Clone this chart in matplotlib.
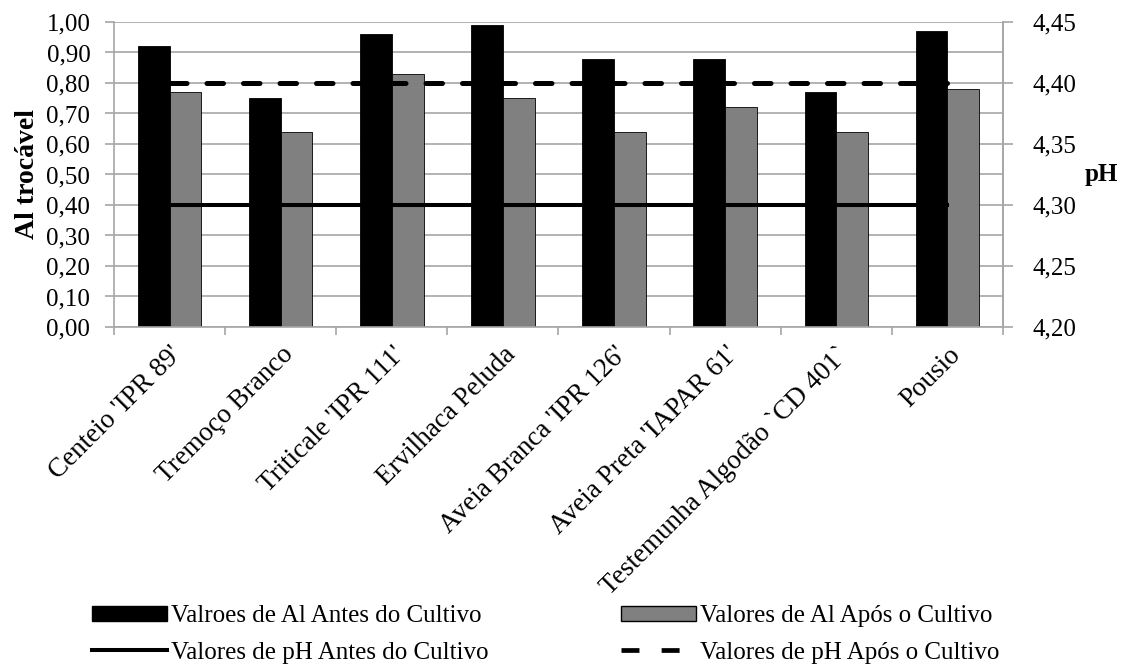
import numpy as np
import matplotlib
matplotlib.use("Agg")
import matplotlib.pyplot as plt
from matplotlib.lines import Line2D
from matplotlib.patches import Patch

plt.rcParams['font.family'] = ['Liberation Serif', 'DejaVu Serif']

# data
categorias = ["Centeio 'IPR 89'", "Tremoço Branco", "Triticale 'IPR 111'", "Ervilhaca Peluda",
              "Aveia Branca 'IPR 126'", "Aveia Preta 'IAPAR 61'", "Testemunha Algodão `CD 401`", "Pousio"]
al_antes = [0.92, 0.75, 0.96, 0.99, 0.88, 0.88, 0.77, 0.97]
al_apos = [0.77, 0.64, 0.83, 0.75, 0.64, 0.72, 0.64, 0.78]
ph_antes = [4.30] * len(categorias)
ph_apos = [4.40] * len(categorias)

left_ticks = np.arange(0, 1.001, 0.1)
right_ticks = np.arange(4.20, 4.4501, 0.05)

grid_c = '#a6a6a6'

fig = plt.figure(figsize=(11.26, 6.68), dpi=100)
ax = fig.add_axes([0.1012, 0.5105, 0.7896, 0.4566])
x = np.arange(len(categorias))
w = 0.286

ax.bar(x - w / 2, al_antes, w, color='black', edgecolor='black', linewidth=0.6, zorder=2)
ax.bar(x + w / 2, al_apos, w, color='#808080', edgecolor='black', linewidth=0.6, zorder=2)

ax.set_xlim(-0.5, len(categorias) - 0.5)
ax.set_ylim(0, 1)
ax.set_yticks(left_ticks)
ax.set_yticklabels([f"{v:.2f}".replace('.', ',') for v in left_ticks])
ax.yaxis.grid(True, color=grid_c, linewidth=1.2, zorder=0)
ax.set_axisbelow(True)
ax.set_xticks(x)
ax.set_xticklabels(categorias, rotation=45, ha='right', va='top', rotation_mode='anchor')
ax.set_xticks(np.arange(-0.5, len(categorias)), minor=True)
ax.tick_params(axis='x', which='major', length=0, pad=11, labelsize=19.5)
ax.tick_params(axis='x', which='minor', length=6, color=grid_c, width=1.2)
ax.tick_params(axis='y', length=6.5, color=grid_c, width=1.2, labelsize=18, pad=10.5)
for s in ['left', 'bottom', 'right']:
    ax.spines[s].set_color(grid_c)
    ax.spines[s].set_linewidth(1.2)
ax.spines['top'].set_visible(False)
ax.set_ylabel('Al trocável', fontsize=20, fontweight='bold', labelpad=5)

ax2 = ax.twinx()
ax2.plot(x, ph_antes, color='black', linewidth=2.9, zorder=3)
ax2.plot(x, ph_apos, color='black', linewidth=3.6, dashes=(3.3, 4.0),
         dash_capstyle='round', zorder=3)
ax2.set_ylim(4.20, 4.45)
ax2.set_yticks(right_ticks)
ax2.set_yticklabels([f"{v:.2f}".replace('.', ',') for v in right_ticks])
ax2.tick_params(axis='y', length=7, color=grid_c, width=1.2, labelsize=18, pad=14)
for s in ax2.spines.values():
    s.set_visible(False)
ax2.spines['right'].set_visible(True)
ax2.spines['right'].set_color(grid_c)
ax2.spines['right'].set_linewidth(1.2)
ax2.set_ylabel('pH', fontsize=18, fontweight='bold', rotation=0, labelpad=18, va='center')

handles = [Patch(facecolor='black', edgecolor='black'),
           Line2D([], [], color='black', linewidth=2.9),
           Patch(facecolor='#808080', edgecolor='black'),
           Line2D([], [], color='black', linewidth=3.4, dashes=(3.8, 4.7))]
labels = ['Valroes de Al Antes do Cultivo', 'Valores de pH Antes do Cultivo',
          'Valores de Al Após o Cultivo', 'Valores de pH Após o Cultivo']
fig.legend(handles, labels, ncol=2, loc='lower left', bbox_to_anchor=(0.062, -0.027),
           frameon=False, fontsize=18, handlelength=3.0, handleheight=0.55,
           handletextpad=0.15, columnspacing=5.3, labelspacing=0.58)

fig.savefig('out.png', dpi=100)
